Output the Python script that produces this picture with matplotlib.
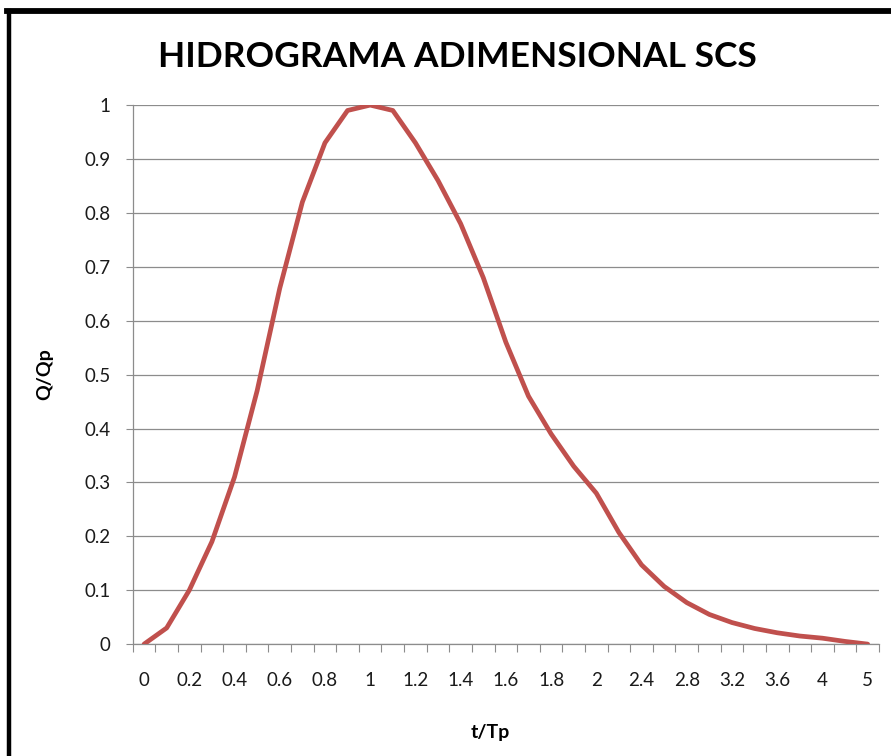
import matplotlib
matplotlib.use('Agg')
import matplotlib.pyplot as plt
from matplotlib.lines import Line2D

# SCS dimensionless unit hydrograph (t/Tp vs Q/Qp)
t_tp = ['0', '0.1', '0.2', '0.3', '0.4', '0.5', '0.6', '0.7', '0.8', '0.9',
        '1', '1.1', '1.2', '1.3', '1.4', '1.5', '1.6', '1.7', '1.8', '1.9',
        '2', '2.2', '2.4', '2.6', '2.8', '3', '3.2', '3.4', '3.6', '3.8',
        '4', '4.5', '5']
q_qp = [0.0, 0.03, 0.10, 0.19, 0.31, 0.47, 0.66, 0.82, 0.93, 0.99,
        1.0, 0.99, 0.93, 0.86, 0.78, 0.68, 0.56, 0.46, 0.39, 0.33,
        0.28, 0.207, 0.147, 0.107, 0.077, 0.055, 0.04, 0.029, 0.021, 0.015,
        0.011, 0.005, 0.0]
y_ticks = [0, 0.1, 0.2, 0.3, 0.4, 0.5, 0.6, 0.7, 0.8, 0.9, 1]
y_labels = ['0', '0.1', '0.2', '0.3', '0.4', '0.5', '0.6', '0.7', '0.8', '0.9', '1']

plt.rcParams['font.family'] = ['Lato', 'DejaVu Sans']
grid_col = '#8c8c8c'
line_col = '#C0504D'

fig = plt.figure(figsize=(8.91, 7.56), dpi=100)
ax = fig.add_axes([0.149, 0.148, 0.8375, 0.713])

idx = list(range(len(t_tp)))
ax.plot(idx, q_qp, color=line_col, linewidth=3.4, solid_capstyle='round',
        solid_joinstyle='round', zorder=3)

ax.set_xlim(-0.5, len(t_tp) - 0.5)
ax.set_ylim(0, 1)

# category boundaries as tick marks, labels every other category
ax.set_xticks([i - 0.5 for i in range(len(t_tp) + 1)])
ax.set_xticklabels([])
ax.set_xticks(idx[::2], minor=True)
ax.set_xticklabels(t_tp[::2], minor=True)
ax.tick_params(axis='x', which='major', length=6, width=0.8, color=grid_col,
               direction='out')
ax.tick_params(axis='x', which='minor', length=0, pad=20, labelsize=13.5,
               labelcolor='#1a1a1a')

ax.set_yticks(y_ticks)
ax.set_yticklabels(y_labels)
ax.tick_params(axis='y', length=5, width=0.8, color=grid_col, pad=11,
               labelsize=13.5, labelcolor='#1a1a1a')

ax.grid(axis='y', color=grid_col, linewidth=0.9)
ax.set_axisbelow(True)
for side in ['top', 'right']:
    ax.spines[side].set_visible(False)
for side in ['left', 'bottom']:
    ax.spines[side].set_color(grid_col)
    ax.spines[side].set_linewidth(0.9)

ax.set_xlabel('t/Tp', fontsize=14, fontweight='bold')
ax.xaxis.set_label_coords(0.479, -0.148)
ax.set_ylabel('Q/Qp', fontsize=14, fontweight='bold')
ax.yaxis.set_label_coords(-0.107, 0.5)

fig.text(0.513, 0.924, 'HIDROGRAMA ADIMENSIONAL SCS', ha='center', va='center',
         fontsize=25.5, fontweight='bold')

# black frame on left and top edges
fig.add_artist(Line2D([0.010, 0.010], [0, 0.9855], transform=fig.transFigure,
                      color='black', linewidth=3.2))
fig.add_artist(Line2D([0.008, 1.0], [0.9855, 0.9855], transform=fig.transFigure,
                      color='black', linewidth=4.2))

plt.savefig('out.png', dpi=100)
